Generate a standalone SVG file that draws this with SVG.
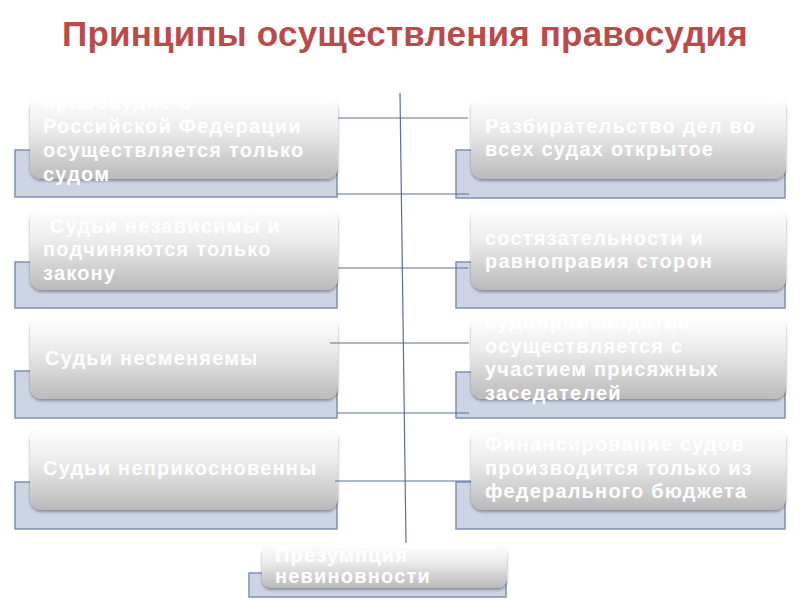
<svg xmlns="http://www.w3.org/2000/svg" width="800" height="600" viewBox="0 0 800 600">
<defs>
<linearGradient id="g" x1="0" y1="0" x2="0" y2="1">
<stop offset="0" stop-color="#ffffff"/>
<stop offset="0.4" stop-color="#ececec"/>
<stop offset="1" stop-color="#bababa"/>
</linearGradient>
<filter id="sh" x="-5%" y="-10%" width="110%" height="130%">
<feDropShadow dx="0" dy="2" stdDeviation="1.6" flood-color="#000" flood-opacity="0.35"/>
</filter>
<style>
.back{fill:#cdd5e5;stroke:#7d91b5;stroke-width:1.5}
.front{fill:url(#g);filter:url(#sh)}
.t{font-family:"Liberation Sans",Arial,sans-serif;font-weight:bold;font-size:20px;letter-spacing:1.2px;fill:#ffffff}
.title{font-family:"Liberation Sans",Arial,sans-serif;font-weight:bold;font-size:35px;letter-spacing:0.2px;fill:#b94b4a}
.c{stroke:#5b6f99;stroke-width:1.2;fill:none}
</style>
</defs>
<rect width="800" height="600" fill="#ffffff"/>
<text class="title" x="405" y="46" text-anchor="middle">Принципы осуществления правосудия</text>

<g id="n1">
<rect class="back" x="15" y="150" width="322" height="47"/>
<rect class="front" x="30" y="97" width="308" height="82" rx="12"/>
<text class="t" x="43" y="109">правосудие в</text>
<text class="t" x="43" y="133">Российской Федерации</text>
<text class="t" x="43" y="157">осуществляется только</text>
<text class="t" x="43" y="181">судом</text>
</g>
<g id="n2">
<rect class="back" x="15" y="262" width="322" height="46"/>
<rect class="front" x="30" y="208" width="308" height="82" rx="12"/>
<text class="t" x="43" y="233" xml:space="preserve"> Судьи независимы и</text>
<text class="t" x="43" y="256">подчиняются только</text>
<text class="t" x="43" y="280">закону</text>
</g>
<g id="n3">
<rect class="back" x="15" y="371" width="322" height="47"/>
<rect class="front" x="30" y="317" width="308" height="82" rx="12"/>
<text class="t" x="45" y="365">Судьи несменяемы</text>
</g>
<g id="n4">
<rect class="back" x="15" y="482" width="322" height="47"/>
<rect class="front" x="30" y="428" width="308" height="82" rx="12"/>
<text class="t" x="43" y="475">Судьи неприкосновенны</text>
</g>
<g id="n5">
<rect class="back" x="456" y="150" width="329" height="48"/>
<rect class="front" x="471" y="97" width="315" height="82" rx="12"/>
<text class="t" x="485" y="133">Разбирательство дел во</text>
<text class="t" x="485" y="156">всех судах открытое</text>
</g>
<g id="n6">
<rect class="back" x="456" y="262" width="329" height="46"/>
<rect class="front" x="471" y="208" width="315" height="82" rx="12"/>
<text class="t" x="485" y="245">состязательности и</text>
<text class="t" x="485" y="268">равноправия сторон</text>
</g>
<g id="n7">
<rect class="back" x="456" y="372" width="329" height="46"/>
<rect class="front" x="471" y="317" width="315" height="82" rx="12"/>
<text class="t" x="485" y="329">судопроизводство</text>
<text class="t" x="485" y="353">осуществляется с</text>
<text class="t" x="485" y="376">участием присяжных</text>
<text class="t" x="485" y="400">заседателей</text>
</g>
<g id="n8">
<rect class="back" x="456" y="482" width="329" height="47"/>
<rect class="front" x="471" y="428" width="315" height="82" rx="12"/>
<text class="t" x="485" y="451">Финансирование судов</text>
<text class="t" x="485" y="475">производится только из</text>
<text class="t" x="485" y="498">федерального бюджета</text>
</g>
<g id="n9">
<rect class="back" x="249" y="573" width="257" height="24"/>
<rect class="front" x="262" y="545" width="245" height="43" rx="9"/>
<text class="t" x="275" y="562">Презумпция</text>
<text class="t" x="275" y="583">невиновности</text>
</g>

<g id="connectors">
<line class="c" x1="400" y1="93" x2="406" y2="543"/>
<line class="c" x1="338" y1="118" x2="468" y2="118"/>
<line class="c" x1="337" y1="194" x2="469" y2="194"/>
<line class="c" x1="338" y1="268" x2="468" y2="268"/>
<line class="c" x1="330" y1="343" x2="469" y2="343"/>
<line class="c" x1="337" y1="413" x2="469" y2="413"/>
<line class="c" x1="335" y1="481" x2="471" y2="481"/>
</g>
</svg>
